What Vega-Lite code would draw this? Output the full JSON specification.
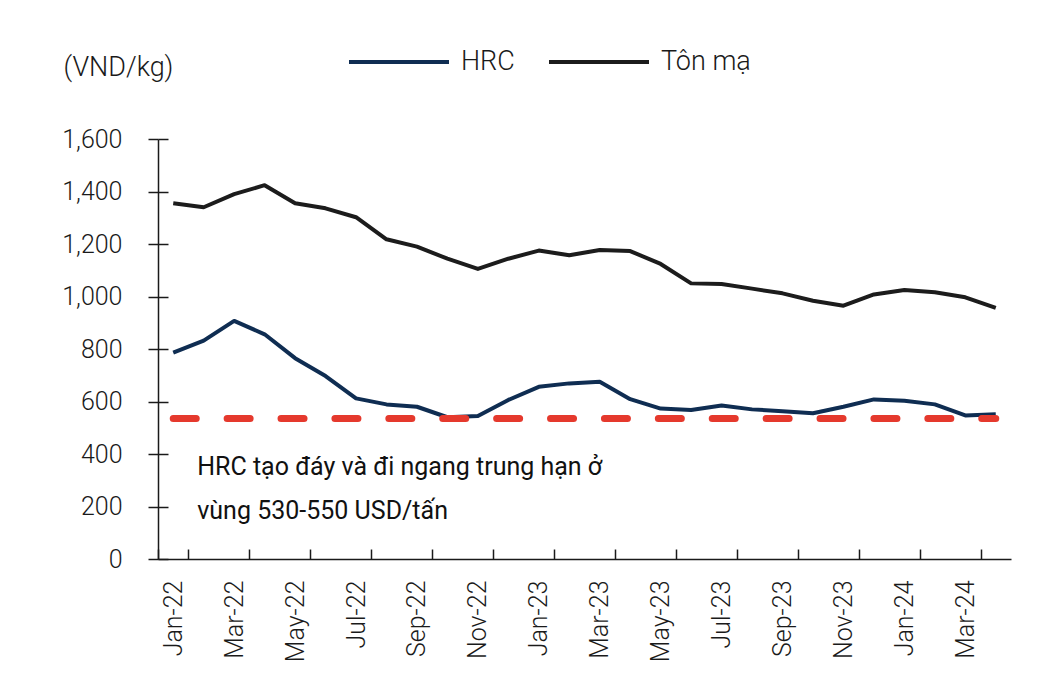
{
  "$schema": "https://vega.github.io/schema/vega-lite/v6.json",
  "width": 853,
  "height": 420,
  "autosize": {"type": "none"},
  "padding": {"left": 158, "top": 139, "right": 35, "bottom": 115},
  "background": "white",
  "config": {
    "font": "Roboto",
    "view": {"stroke": null},
    "axis": {
      "grid": false,
      "domainColor": "#1a1a1a",
      "domainWidth": 1.5,
      "tickColor": "#1a1a1a",
      "tickWidth": 1.5,
      "labelColor": "#1a1a1a",
      "labelFont": "Roboto",
      "labelFontWeight": 300,
      "labelFontSize": 25,
      "titleColor": "#1a1a1a"
    }
  },
  "datasets": {
    "prices": [
      {"month": "Jan-22", "series": "HRC", "price": 786},
      {"month": "Feb-22", "series": "HRC", "price": 832},
      {"month": "Mar-22", "series": "HRC", "price": 907},
      {"month": "Apr-22", "series": "HRC", "price": 856},
      {"month": "May-22", "series": "HRC", "price": 765},
      {"month": "Jun-22", "series": "HRC", "price": 697},
      {"month": "Jul-22", "series": "HRC", "price": 612},
      {"month": "Aug-22", "series": "HRC", "price": 589},
      {"month": "Sep-22", "series": "HRC", "price": 580},
      {"month": "Oct-22", "series": "HRC", "price": 540},
      {"month": "Nov-22", "series": "HRC", "price": 545},
      {"month": "Dec-22", "series": "HRC", "price": 606},
      {"month": "Jan-23", "series": "HRC", "price": 656},
      {"month": "Feb-23", "series": "HRC", "price": 669},
      {"month": "Mar-23", "series": "HRC", "price": 675},
      {"month": "Apr-23", "series": "HRC", "price": 609},
      {"month": "May-23", "series": "HRC", "price": 573},
      {"month": "Jun-23", "series": "HRC", "price": 568},
      {"month": "Jul-23", "series": "HRC", "price": 585},
      {"month": "Aug-23", "series": "HRC", "price": 570},
      {"month": "Sep-23", "series": "HRC", "price": 563},
      {"month": "Oct-23", "series": "HRC", "price": 555},
      {"month": "Nov-23", "series": "HRC", "price": 580},
      {"month": "Dec-23", "series": "HRC", "price": 608},
      {"month": "Jan-24", "series": "HRC", "price": 603},
      {"month": "Feb-24", "series": "HRC", "price": 589},
      {"month": "Mar-24", "series": "HRC", "price": 547},
      {"month": "Apr-24", "series": "HRC", "price": 551},
      {"month": "Jan-22", "series": "Tôn mạ", "price": 1355},
      {"month": "Feb-22", "series": "Tôn mạ", "price": 1340},
      {"month": "Mar-22", "series": "Tôn mạ", "price": 1390},
      {"month": "Apr-22", "series": "Tôn mạ", "price": 1424},
      {"month": "May-22", "series": "Tôn mạ", "price": 1355},
      {"month": "Jun-22", "series": "Tôn mạ", "price": 1336},
      {"month": "Jul-22", "series": "Tôn mạ", "price": 1302},
      {"month": "Aug-22", "series": "Tôn mạ", "price": 1218},
      {"month": "Sep-22", "series": "Tôn mạ", "price": 1190},
      {"month": "Oct-22", "series": "Tôn mạ", "price": 1144},
      {"month": "Nov-22", "series": "Tôn mạ", "price": 1105},
      {"month": "Dec-22", "series": "Tôn mạ", "price": 1144},
      {"month": "Jan-23", "series": "Tôn mạ", "price": 1175},
      {"month": "Feb-23", "series": "Tôn mạ", "price": 1157},
      {"month": "Mar-23", "series": "Tôn mạ", "price": 1177},
      {"month": "Apr-23", "series": "Tôn mạ", "price": 1173},
      {"month": "May-23", "series": "Tôn mạ", "price": 1124},
      {"month": "Jun-23", "series": "Tôn mạ", "price": 1050},
      {"month": "Jul-23", "series": "Tôn mạ", "price": 1048},
      {"month": "Aug-23", "series": "Tôn mạ", "price": 1030},
      {"month": "Sep-23", "series": "Tôn mạ", "price": 1012},
      {"month": "Oct-23", "series": "Tôn mạ", "price": 984},
      {"month": "Nov-23", "series": "Tôn mạ", "price": 965},
      {"month": "Dec-23", "series": "Tôn mạ", "price": 1008},
      {"month": "Jan-24", "series": "Tôn mạ", "price": 1025},
      {"month": "Feb-24", "series": "Tôn mạ", "price": 1016},
      {"month": "Mar-24", "series": "Tôn mạ", "price": 997},
      {"month": "Apr-24", "series": "Tôn mạ", "price": 957}
    ],
    "floor": [{"start": "Jan-22", "end": "Apr-24", "level": 535}],
    "note": [{"label": ["HRC tạo đáy và đi ngang trung hạn ở", "vùng 530-550 USD/tấn"]}]
  },
  "layer": [
    {
      "data": {"name": "prices"},
      "mark": {"type": "line", "strokeWidth": 4, "strokeJoin": "round"},
      "encoding": {
        "x": {
          "field": "month",
          "type": "nominal",
          "scale": {
            "type": "band",
            "paddingInner": 0,
            "paddingOuter": 0,
            "domain": ["Jan-22","Feb-22","Mar-22","Apr-22","May-22","Jun-22","Jul-22","Aug-22","Sep-22","Oct-22","Nov-22","Dec-22","Jan-23","Feb-23","Mar-23","Apr-23","May-23","Jun-23","Jul-23","Aug-23","Sep-23","Oct-23","Nov-23","Dec-23","Jan-24","Feb-24","Mar-24","Apr-24"]
          },
          "axis": {
            "title": null,
            "values": ["Jan-22","Mar-22","May-22","Jul-22","Sep-22","Nov-22","Jan-23","Mar-23","May-23","Jul-23","Sep-23","Nov-23","Jan-24","Mar-24"],
            "tickBand": "extent",
            "labelAngle": -90,
            "labelAlign": "right",
            "labelBaseline": "middle",
            "tickSize": -10,
            "labelPadding": 31
          }
        },
        "y": {
          "field": "price",
          "type": "quantitative",
          "scale": {"domain": [0, 1600], "nice": false},
          "axis": {
            "title": "(VND/kg)",
            "titleAngle": 0,
            "titleAlign": "left",
            "titleBaseline": "alphabetic",
            "titleX": -95,
            "titleY": -64,
            "titleFontSize": 27,
            "titleFontWeight": 300,
            "values": [0, 200, 400, 600, 800, 1000, 1200, 1400, 1600],
            "format": ",.0f",
            "tickSize": 10,
            "labelPadding": 26
          }
        },
        "color": {
          "field": "series",
          "type": "nominal",
          "scale": {"domain": ["HRC", "Tôn mạ"], "range": ["#0f2d52", "#1c1c1c"]},
          "legend": {
            "title": null,
            "orient": "none",
            "direction": "horizontal",
            "legendX": 189,
            "legendY": -129,
            "symbolType": "stroke",
            "symbolSize": 10000,
            "symbolStrokeWidth": 4,
            "labelFontSize": 27,
            "labelFontWeight": 300,
            "labelColor": "#1a1a1a",
            "labelOffset": 10,
            "columnPadding": 26
          }
        }
      }
    },
    {
      "data": {"name": "floor"},
      "mark": {"type": "rule", "color": "#e5392d", "strokeWidth": 7, "strokeCap": "round", "strokeDash": [23, 30.9]},
      "encoding": {
        "x": {"field": "start", "type": "nominal"},
        "x2": {"field": "end"},
        "y": {
          "field": "level",
          "type": "quantitative",
          "axis": {"title": null, "orient": "left", "labels": false, "domain": false, "tickSize": -10, "values": [0, 200, 400, 600, 800, 1000, 1200, 1400, 1600]}
        }
      }
    },
    {
      "data": {"name": "note"},
      "mark": {"type": "text", "align": "left", "baseline": "alphabetic", "fontSize": 25, "lineHeight": 44, "color": "#111111", "dx": 24},
      "encoding": {
        "x": {"datum": "Jan-22", "type": "nominal"},
        "y": {"datum": 320, "type": "quantitative", "axis": null},
        "text": {"field": "label"}
      }
    }
  ],
  "resolve": {"axis": {"y": "independent"}}
}
